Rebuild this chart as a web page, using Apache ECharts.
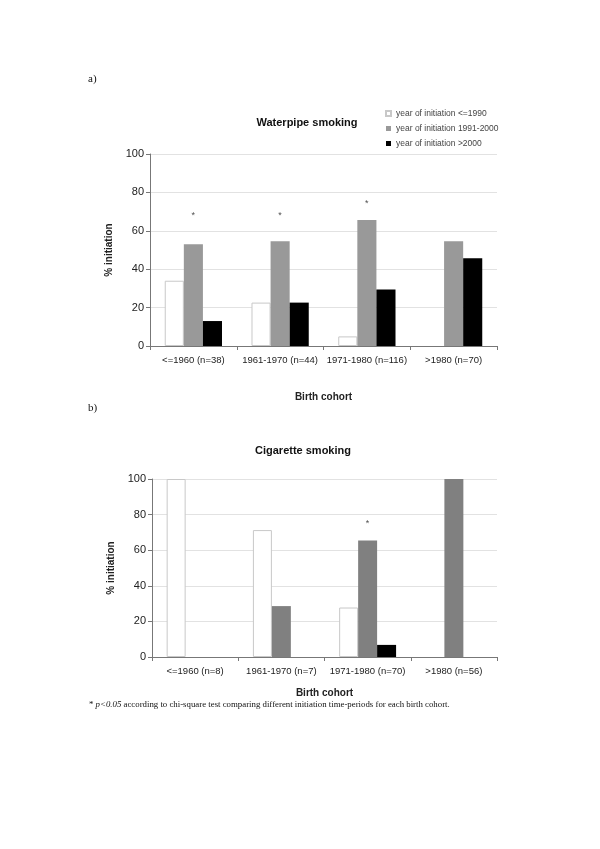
<!DOCTYPE html>
<html><head><meta charset="utf-8">
<script src="https://cdn.jsdelivr.net/npm/echarts@6/dist/echarts.min.js"></script>
<style>html,body{margin:0;padding:0;background:#fff}#c{width:600px;height:849px}</style>
</head><body><div id="c"></div>
<script>
const seriesNames = ['year of initiation <=1990','year of initiation 1991-2000','year of initiation >2000'];
const catsA = ['<=1960 (n=38)','1961-1970 (n=44)','1971-1980 (n=116)','>1980 (n=70)'];
const whiteA = [34, 22.6, 5, 0];
const grayA = [53, 54.6, 65.6, 54.6];
const blackA = [13, 22.6, 29.4, 45.7];
const starsA = [[0, 68], [1, 68], [2, 74]];
const catsB = ['<=1960 (n=8)','1961-1970 (n=7)','1971-1980 (n=70)','>1980 (n=56)'];
const whiteB = [100, 71.3, 27.8, 0];
const grayB = [0, 28.6, 65.4, 100];
const blackB = [0, 0, 6.8, 0];
const starsB = [[2, 75]];
const yTicks = [0, 20, 40, 60, 80, 100];

const font = 'Liberation Sans, Arial, sans-serif';
const chart = echarts.init(document.getElementById('c'));
const nz = arr => arr.map(v => v === 0 ? null : v);
function yAxis(gi){
  return {gridIndex: gi, type:'value', min: yTicks[0], max: yTicks[yTicks.length-1], interval: 20,
    name:'% initiation', nameLocation:'middle', nameRotate:90, nameGap:30,
    nameTextStyle:{fontFamily:font, fontSize:10, fontWeight:'bold', color:'#222'},
    axisLine:{show:true, lineStyle:{color:'#777'}}, axisTick:{show:true, length:4, lineStyle:{color:'#777'}},
    axisLabel:{fontFamily:font, fontSize:11, color:'#222', margin:6},
    splitLine:{lineStyle:{color:'#e2e2e2'}}};
}
function xAxis(gi, cats, gap){
  return {gridIndex: gi, type:'category', data: cats,
    name:'Birth cohort', nameLocation:'middle', nameGap: gap,
    nameTextStyle:{fontFamily:font, fontSize:10, fontWeight:'bold', color:'#222'},
    axisLine:{lineStyle:{color:'#777'}}, axisTick:{show:true, length:4, lineStyle:{color:'#777'}},
    axisLabel:{fontFamily:font, fontSize:9.5, color:'#222', margin:9, interval:0}};
}
function bars(gi, w, g, b, grayCol){
  const common = {type:'bar', xAxisIndex:gi, yAxisIndex:gi, barGap:'0%', barCategoryGap:'34%'};
  return [
    Object.assign({}, common, {name:seriesNames[0], data:nz(w), itemStyle:{color:'#fff', borderColor:'#c8c8c8', borderWidth:1}}),
    Object.assign({}, common, {name:seriesNames[1], data:nz(g), itemStyle:{color:grayCol}}),
    Object.assign({}, common, {name:seriesNames[2], data:nz(b), itemStyle:{color:'#000'}})
  ];
}
function stars(gi, d){
  return {type:'scatter', xAxisIndex:gi, yAxisIndex:gi, data:d, symbolSize:1, itemStyle:{color:'rgba(0,0,0,0)'},
    label:{show:true, position:'inside', formatter:'*', fontSize:9, color:'#222', fontFamily:font}, silent:true};
}
chart.setOption({
  animation:false,
  title:[
    {text:'Waterpipe smoking', left:302, top:112, textAlign:'center', textStyle:{fontFamily:font, fontSize:11, fontWeight:'bold', color:'#111'}},
    {text:'Cigarette smoking', left:298, top:440, textAlign:'center', textStyle:{fontFamily:font, fontSize:11, fontWeight:'bold', color:'#111'}}
  ],
  legend:{orient:'vertical', left:380, top:104, itemWidth:5, itemHeight:5, itemGap:6, icon:'rect',
    data: seriesNames, textStyle:{fontFamily:font, fontSize:8.5, color:'#444'}},
  grid:[
    {left:150, top:154, width:347, height:192},
    {left:152, top:479, width:345, height:178}
  ],
  xAxis:[xAxis(0, catsA, 46), xAxis(1, catsB, 31)],
  yAxis:[yAxis(0), yAxis(1)],
  series:[].concat(bars(0, whiteA, grayA, blackA, '#999999'), [stars(0, starsA)],
                   bars(1, whiteB, grayB, blackB, '#808080'), [stars(1, starsB)]),
  graphic:[
    {type:'text', left:88, top:74, style:{text:'a)', font:'11px "Liberation Serif", serif', fill:'#111'}},
    {type:'text', left:88, top:403, style:{text:'b)', font:'11px "Liberation Serif", serif', fill:'#111'}},
    {type:'text', left:89, top:700, style:{
      text:'* {i|p<0.05} according to chi-square test comparing different initiation time-periods for each birth cohort.',
      font:'8.8px "Liberation Serif", serif', fill:'#111',
      rich:{i:{fontStyle:'italic', fontFamily:'Liberation Serif', fontSize:8.8, fill:'#111'}}}}
  ]
});
</script></body></html>
